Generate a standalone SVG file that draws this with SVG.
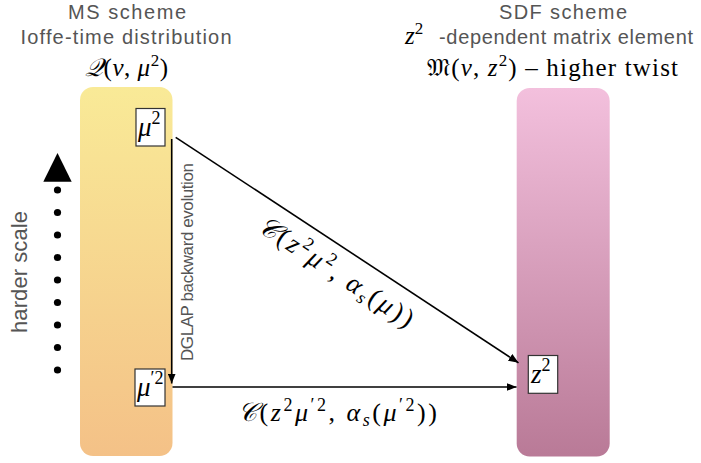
<svg xmlns="http://www.w3.org/2000/svg" width="701" height="463" viewBox="0 0 701 463">
<style>
.t{font-family:"Liberation Sans",Arial,sans-serif;fill:#555;font-size:20px}
.m{font-family:"Liberation Serif","DejaVu Serif",serif;fill:#000;font-style:italic}
.r{font-family:"Liberation Serif","DejaVu Serif",serif;fill:#000}
.box{fill:#fff;stroke:#333;stroke-width:1.2}
.ln{stroke:#000;stroke-width:1.6;fill:none}
</style>
<defs>
<linearGradient id="gY" x1="0" y1="0" x2="0" y2="1"><stop offset="0" stop-color="#F9EA97"/><stop offset="1" stop-color="#F4C187"/></linearGradient>
<linearGradient id="gP" x1="0" y1="0" x2="0" y2="1"><stop offset="0" stop-color="#F3C0DD"/><stop offset="1" stop-color="#B97A97"/></linearGradient>
<marker id="ah" viewBox="0 0 10 8" refX="10" refY="4" markerWidth="10" markerHeight="8" markerUnits="userSpaceOnUse" orient="auto"><path d="M0,0 L10,4 L0,8 z" fill="#000"/></marker>
</defs>
<rect width="701" height="463" fill="#fff"/>

<g id="ms-column">
<text class="t" x="127" y="18.5" text-anchor="middle" textLength="118" lengthAdjust="spacing">MS scheme</text>
<text class="t" x="126" y="44" text-anchor="middle" textLength="211" lengthAdjust="spacing">Ioffe-time distribution</text>
<text x="126.5" y="76" text-anchor="middle" style="font-size:25px" textLength="83" lengthAdjust="spacing"><tspan class="m">𝒬</tspan><tspan class="r">(</tspan><tspan class="m">ν</tspan><tspan class="r">, </tspan><tspan class="m">μ</tspan><tspan class="r" dy="-10" style="font-size:17px">2</tspan><tspan class="r" dy="10">)</tspan></text>
<rect x="80" y="87" width="92.5" height="369" rx="13" fill="url(#gY)"/>
</g>

<g id="sdf-column">
<text class="t" x="563" y="18.5" text-anchor="middle" textLength="128" lengthAdjust="spacing">SDF scheme</text>
<text x="405" y="44" style="font-size:25px"><tspan class="m">z</tspan><tspan class="r" dy="-10" style="font-size:17px">2</tspan></text>
<text class="t" x="439" y="44" textLength="254" lengthAdjust="spacing">-dependent matrix element</text>
<text x="427" y="76" style="font-size:25px" textLength="251" lengthAdjust="spacing"><tspan class="r">𝔐(</tspan><tspan class="m">ν</tspan><tspan class="r">, </tspan><tspan class="m">z</tspan><tspan class="r" dy="-10" style="font-size:17px">2</tspan><tspan class="r" dy="10">) – higher twist</tspan></text>
<rect x="516.7" y="88" width="93" height="368.5" rx="13" fill="url(#gP)"/>
</g>

<g id="node-mu2">
<rect class="box" x="136" y="108.5" width="29" height="37.5"/>
<text x="138" y="136" style="font-size:27px"><tspan class="m">μ</tspan><tspan class="r" dy="-12" style="font-size:18px">2</tspan></text>
</g>

<g id="node-mup2">
<rect class="box" x="135" y="369" width="30" height="37"/>
<text x="137" y="396" style="font-size:27px"><tspan class="m">μ</tspan><tspan class="r" dy="-12" style="font-size:18px">′2</tspan></text>
</g>

<g id="node-z2">
<rect class="box" x="528.3" y="355.5" width="29.4" height="37.8"/>
<text x="531" y="383" style="font-size:27px"><tspan class="m">z</tspan><tspan class="r" dy="-12" style="font-size:18px">2</tspan></text>
</g>

<g id="harder-scale">
<polygon points="57.5,153 71.7,181.7 43.3,181.7" fill="#000"/>
<g fill="#000">
<circle cx="57.5" cy="190" r="3.6"/><circle cx="57.5" cy="212.5" r="3.6"/><circle cx="57.5" cy="235" r="3.6"/>
<circle cx="57.5" cy="257.5" r="3.6"/><circle cx="57.5" cy="280" r="3.6"/><circle cx="57.5" cy="302.5" r="3.6"/>
<circle cx="57.5" cy="325" r="3.6"/><circle cx="57.5" cy="347.5" r="3.6"/><circle cx="57.5" cy="370" r="3.6"/>
</g>
<text class="t" transform="translate(27,272) rotate(-90)" x="0" y="0" text-anchor="middle" style="font-size:22px" textLength="122" lengthAdjust="spacing">harder scale</text>
</g>

<g id="connectors">
<line class="ln" x1="171.7" y1="139" x2="171.7" y2="383.5" marker-end="url(#ah)"/>
<line class="ln" x1="175.7" y1="137.3" x2="518.5" y2="362.8" marker-end="url(#ah)"/>
<line class="ln" x1="172.5" y1="387" x2="516.5" y2="387" marker-end="url(#ah)"/>
<text class="t" transform="translate(192.5,262) rotate(-90)" x="0" y="0" text-anchor="middle" style="font-size:17px" textLength="198" lengthAdjust="spacing">DGLAP backward evolution</text>
<text transform="translate(175.7,137.3) rotate(33.3)" x="208" y="33" text-anchor="middle" style="font-size:27px" textLength="180" lengthAdjust="spacing"><tspan class="m">𝒞</tspan><tspan class="r">(</tspan><tspan class="m">z</tspan><tspan class="r" dy="-11" style="font-size:18px">2</tspan><tspan class="m" dy="11">μ</tspan><tspan class="r" dy="-11" style="font-size:18px">2</tspan><tspan class="r" dy="11">, </tspan><tspan class="m">α</tspan><tspan class="m" dy="5" style="font-size:18px">s</tspan><tspan class="r" dy="-5">(</tspan><tspan class="m">μ</tspan><tspan class="r">))</tspan></text>
<text x="337.5" y="421" text-anchor="middle" style="font-size:26px" textLength="199" lengthAdjust="spacing"><tspan class="m">𝒞</tspan><tspan class="r">(</tspan><tspan class="m">z</tspan><tspan class="r" dy="-10" style="font-size:18px">2</tspan><tspan class="m" dy="10">μ</tspan><tspan class="r" dy="-10" style="font-size:18px">′2</tspan><tspan class="r" dy="10">, </tspan><tspan class="m">α</tspan><tspan class="m" dy="5" style="font-size:18px">s</tspan><tspan class="r" dy="-5">(</tspan><tspan class="m">μ</tspan><tspan class="r" dy="-10" style="font-size:18px">′2</tspan><tspan class="r" dy="10">))</tspan></text>
</g>
</svg>
